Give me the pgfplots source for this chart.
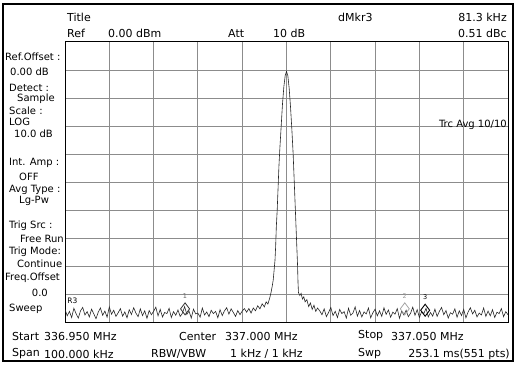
\documentclass[border=0pt]{standalone}
\usepackage{pgfplots}
\pgfplotsset{compat=1.18}
\usepackage{fontspec}
\setmainfont{DejaVu Sans}
\newcommand\Tw[3]{\node[anchor=west,inner sep=0pt] at (#1,{365-#2}) {#3};}
\newcommand\Te[3]{\node[anchor=east,inner sep=0pt] at (#1,{365-#2}) {#3};}
\begin{document}
\begin{tikzpicture}[x=1bp,y=1bp]
\path[use as bounding box] (0,0) rectangle (515,365);
\draw[line width=1.2bp] (3,4) rectangle (513,361);
\begin{axis}[
  at={(65bp,43bp)}, anchor=south west,
  width=443bp, height=280bp, scale only axis,
  xmin=-50, xmax=50, ymin=-100, ymax=0,
  xtick={-40,-30,-20,-10,0,10,20,30,40},
  ytick={-90,-80,-70,-60,-50,-40,-30,-20,-10},
  xticklabels={}, yticklabels={},
  major tick length=0pt,
  grid=major,
  major grid style={draw=black!45, line width=0.9bp},
  axis line style={draw=black, line width=1bp},
  clip=true,
]
\addplot[black!85, line width=0.6bp] coordinates {
(-50.0,-95.5)(-49.5,-97.8)(-49.0,-96.2)(-48.5,-98.4)(-48.0,-95.1)(-47.5,-97.0)(-47.0,-98.6)(-46.5,-96.0)(-46.0,-94.8)(-45.5,-97.5)
(-45.0,-96.3)(-44.5,-98.2)(-44.0,-95.4)(-43.5,-97.1)(-43.0,-98.8)(-42.5,-96.5)(-42.0,-95.0)(-41.5,-97.6)(-41.0,-96.1)(-40.5,-98.3)
(-40.0,-94.6)(-39.5,-97.2)(-39.0,-95.8)(-38.5,-98.0)(-38.0,-96.7)(-37.5,-95.2)(-37.0,-97.9)(-36.5,-96.4)(-36.0,-98.5)(-35.5,-95.6)
(-35.0,-97.3)(-34.5,-94.9)(-34.0,-96.8)(-33.5,-98.1)(-33.0,-95.3)(-32.5,-97.7)(-32.0,-96.0)(-31.5,-98.7)(-31.0,-95.9)(-30.5,-97.4)
(-30.0,-96.2)(-29.5,-94.7)(-29.0,-97.8)(-28.5,-95.5)(-28.0,-98.2)(-27.5,-96.6)(-27.0,-97.0)(-26.5,-95.1)(-26.0,-98.4)(-25.5,-96.3)
(-25.0,-97.6)(-24.5,-95.7)(-24.0,-98.0)(-23.5,-96.9)(-23.0,-94.5)(-22.5,-97.3)(-22.0,-96.1)(-21.5,-98.6)(-21.0,-95.4)(-20.5,-97.1)
(-20.0,-96.8)(-19.5,-98.3)(-19.0,-95.0)(-18.5,-97.5)(-18.0,-96.4)(-17.5,-98.1)(-17.0,-95.8)(-16.5,-97.0)(-16.0,-96.2)(-15.5,-98.5)
(-15.0,-95.6)(-14.5,-97.7)(-14.0,-96.0)(-13.5,-94.9)(-13.0,-97.2)(-12.5,-95.3)(-12.0,-96.6)(-11.5,-98.0)(-11.0,-95.9)(-10.5,-97.4)
(-10.0,-96.1)(-9.5,-95.2)
(-9.0,-96.5)(-8.5,-95.2)(-8.0,-96.8)(-7.5,-95.0)(-7.0,-96.0)(-6.5,-94.2)(-6.0,-95.3)(-5.5,-93.5)(-5.0,-94.6)(-4.6,-92.8)
(-4.2,-93.6)(-3.8,-91.5)(-3.5,-89.5)(-3.2,-87.0)(-3.0,-85.0)(-2.8,-81.5)(-2.6,-78.0)(-2.45,-73)(-2.3,-66)(-2.1,-60)
(-1.9,-52)(-1.7,-44)(-1.5,-38)(-1.2,-30)(-0.9,-22)(-0.6,-16)(-0.3,-12)(0,-10.5)(0.3,-12)(0.6,-16.5)
(0.9,-23)(1.2,-31)(1.5,-40)(1.8,-52)(2.0,-60)(2.2,-68)(2.35,-74)(2.5,-80)(2.6,-86)(2.7,-89.5)
(3.0,-90.5)(3.3,-89.8)(3.6,-91.8)(3.9,-91.0)(4.2,-92.8)(4.6,-92.0)(5.0,-94.5)(5.4,-93.2)(5.8,-95.5)(6.2,-94.0)
(6.6,-96.2)(7.0,-95.0)
(7.5,-96.0)(8.0,-97.4)(8.5,-95.3)(9.0,-98.1)(9.5,-96.6)(10.0,-94.8)(10.5,-97.7)(11.0,-96.2)(11.5,-98.4)(12.0,-95.5)
(12.5,-97.0)(13.0,-96.3)(13.5,-98.6)(14.0,-95.1)(14.5,-97.6)(15.0,-96.8)(15.5,-94.6)(16.0,-97.9)(16.5,-95.9)(17.0,-98.2)
(17.5,-96.4)(18.0,-97.1)(18.5,-95.0)(19.0,-98.5)(19.5,-96.7)(20.0,-95.4)(20.5,-97.8)(21.0,-96.0)(21.5,-98.0)(22.0,-94.9)
(22.5,-97.3)(23.0,-95.7)(23.5,-98.3)(24.0,-96.5)(24.5,-97.2)(25.0,-95.2)(25.5,-98.7)(26.0,-96.1)(26.5,-97.5)(27.0,-95.8)
(27.5,-98.1)(28.0,-96.9)(28.5,-94.7)(29.0,-97.6)(29.5,-95.6)(30.0,-98.4)(30.5,-96.3)(31.0,-97.0)(31.5,-95.1)(32.0,-98.2)
(32.5,-96.6)(33.0,-97.9)(33.5,-95.4)(34.0,-98.0)(34.5,-96.2)(35.0,-94.8)(35.5,-97.4)(36.0,-95.9)(36.5,-98.6)(37.0,-96.7)
(37.5,-97.2)(38.0,-95.3)(38.5,-98.3)(39.0,-96.0)(39.5,-97.7)(40.0,-95.5)(40.5,-98.5)(41.0,-96.4)(41.5,-94.9)(42.0,-97.1)
(42.5,-95.8)(43.0,-98.2)(43.5,-96.8)(44.0,-97.5)(44.5,-95.0)(45.0,-98.0)(45.5,-96.1)(46.0,-97.8)(46.5,-95.6)(47.0,-98.4)
(47.5,-96.5)(48.0,-97.0)(48.5,-95.2)(49.0,-98.1)(49.5,-96.3)(50.0,-97.4)
};
\addplot[only marks, mark=diamond, mark size=6bp, black!80, line width=0.8bp] coordinates {(-22.9,-95.3)} node[above=7bp, font=\fontsize{6.5bp}{7bp}\selectfont, black!60] {1};
\addplot[only marks, mark=diamond, mark size=6bp, black!35, line width=0.8bp] coordinates {(26.7,-95.3)} node[above=7bp, font=\fontsize{6.5bp}{7bp}\selectfont, black!40] {2};
\addplot[only marks, mark=diamond, mark size=6bp, black, line width=0.9bp] coordinates {(31.3,-95.8)} node[above=7bp, font=\fontsize{6.5bp}{7bp}\selectfont, black] {3};
\node[anchor=north west, inner sep=0pt, font=\fontsize{7.5bp}{8bp}\selectfont] at (axis cs:-49.5,-91.5) {R3};
\end{axis}
% header
\begingroup\fontsize{11bp}{13bp}\selectfont
\Tw{67}{17}{Title}
\Tw{67}{33}{Ref}
\Tw{108}{33}{0.00 dBm}
\Tw{228}{33}{Att}
\Tw{273}{33}{10 dB}
\Tw{338}{17}{dMkr3}
\Te{507}{17}{81.3 kHz}
\Te{507}{33}{0.51 dBc}
\endgroup
% left panel
\begingroup\fontsize{10bp}{11bp}\selectfont
\Tw{5}{57}{Ref.Offset :}
\Tw{10}{72}{0.00 dB}
\Tw{9}{88}{Detect :}
\Tw{17}{99}{Sample}
\Tw{9}{111}{Scale :}
\Tw{9}{122}{LOG}
\Tw{14}{134}{10.0 dB}
\Tw{9}{163}{Int. Amp :}
\Tw{19}{177}{OFF}
\Tw{9}{190}{Avg Type :}
\Tw{19}{201}{Lg-Pw}
\Tw{9}{226}{Trig Src :}
\Tw{20}{239}{Free Run}
\Tw{9}{252}{Trig Mode:}
\Tw{17}{264}{Continue}
\Tw{5}{278}{Freq.Offset}
\Te{48}{293}{0.0}
\Tw{9}{309}{Sweep}
\endgroup
\begingroup\fontsize{10bp}{12bp}\selectfont
\Te{507}{125}{Trc Avg 10/10}
\endgroup
% footer
\begingroup\fontsize{11bp}{13bp}\selectfont
\Tw{12}{336}{Start}
\Tw{44}{336}{336.950 MHz}
\Tw{179}{336}{Center}
\Tw{225}{336}{337.000 MHz}
\Tw{358}{336}{Stop}
\Tw{391}{336}{337.050 MHz}
\Tw{12}{354}{Span}
\Tw{44}{354}{100.000 kHz}
\Tw{151}{354}{RBW/VBW}
\Tw{230}{354}{1 kHz / 1 kHz}
\Tw{358}{354}{Swp}
\Te{510}{354}{253.1 ms(551 pts)}
\endgroup
\end{tikzpicture}
\end{document}
